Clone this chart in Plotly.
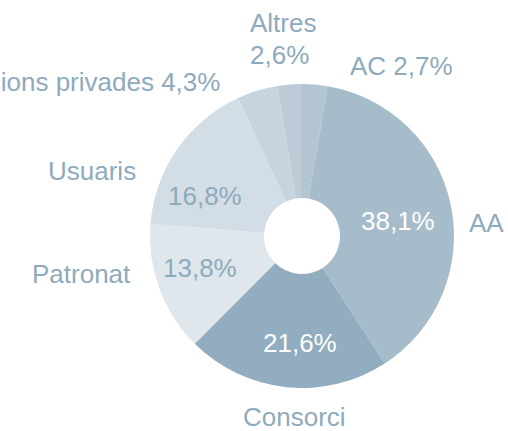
import plotly.graph_objects as go

labels = ["AC", "AA", "Consorci", "Patronat", "Usuaris", "Fundacions privades", "Altres"]
values = [2.7, 38.1, 21.6, 13.8, 16.8, 4.3, 2.6]
pct_text = ["2,7%", "38,1%", "21,6%", "13,8%", "16,8%", "4,3%", "2,6%"]
colors = ["#b3c5d1", "#a7bccb", "#91adbf", "#dfe6ec", "#d3dde5", "#c7d4dd", "#bccbd6"]

W, H = 508, 431
CX, CY, R = 302, 236, 152
TXT = "#8eaabd"
FONT = "Liberation Sans, Arial, sans-serif"
FS = 26

fig = go.Figure(go.Pie(
    labels=labels, values=values, sort=False, direction="clockwise", rotation=0,
    hole=0.25, marker=dict(colors=colors, line=dict(width=0)),
    textinfo="none", hoverinfo="label+percent", showlegend=False,
    domain=dict(x=[(CX - R) / W, (CX + R) / W], y=[(H - CY - R) / H, (H - CY + R) / H]),
))

def px(x, y):
    return x / W, 1 - y / H

# (text, x, y, xanchor, color) in window pixels
ann = [
    (pct_text[1], 398, 221, "center", "white"),
    (pct_text[2], 300, 343, "center", "white"),
    (pct_text[3], 200, 268, "center", TXT),
    (pct_text[4], 205, 196, "center", TXT),
    (labels[1], 468, 223, "left", TXT),
    (labels[2], 294, 417, "center", TXT),
    (labels[3], 132, 274, "right", TXT),
    (labels[4], 137, 171, "right", TXT),
    (labels[5] + " " + pct_text[5], 221, 82, "right", TXT),
    (labels[0] + " " + pct_text[0], 349, 66, "left", TXT),
    (labels[6], 249, 23, "left", TXT),
    (pct_text[6], 249, 55, "left", TXT),
]
for t, x, y, xa, c in ann:
    ax, ay = px(x, y)
    fig.add_annotation(text=t, x=ax, y=ay, xref="paper", yref="paper",
                       xanchor=xa, yanchor="middle", showarrow=False, borderpad=0,
                       font=dict(family=FONT, size=FS, color=c))

fig.update_layout(width=W, height=H, margin=dict(l=0, r=0, t=0, b=0),
                  paper_bgcolor="white", plot_bgcolor="white")
fig.write_html("out.html", config={"displayModeBar": False},
               post_script="document.body.style.margin='0';document.body.style.overflow='hidden';")
